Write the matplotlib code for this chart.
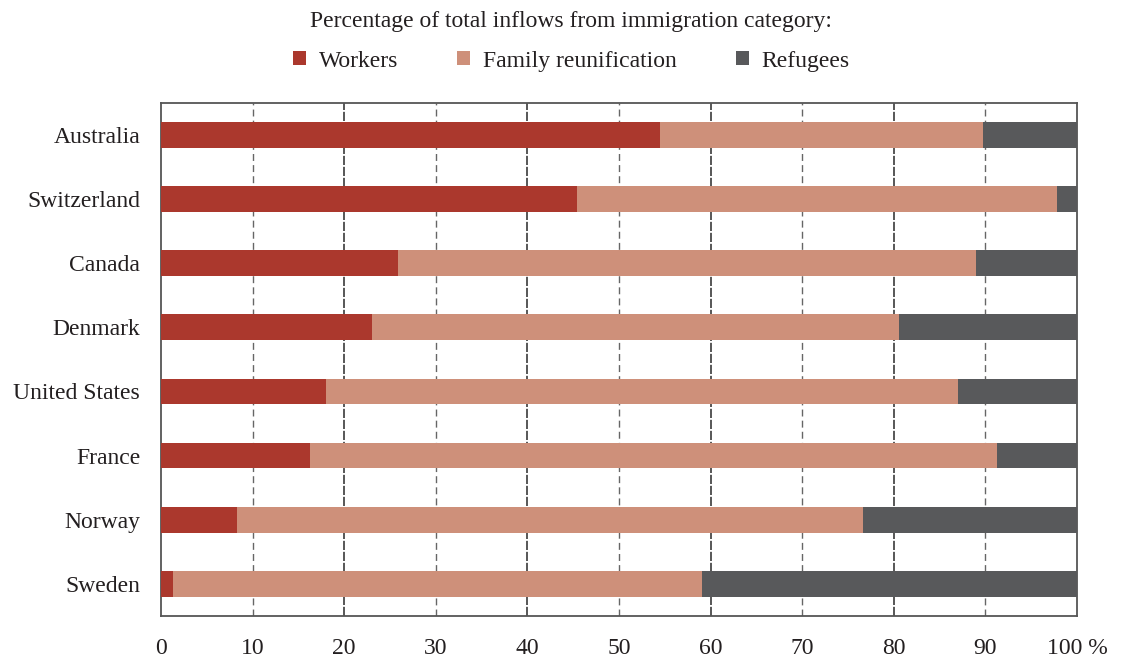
import matplotlib
matplotlib.use("Agg")
import matplotlib.pyplot as plt
from matplotlib.patches import Patch
import numpy as np

countries = ["Australia", "Switzerland", "Canada", "Denmark", "United States", "France", "Norway", "Sweden"]
workers = [54.5, 45.4, 25.9, 23.0, 18.0, 16.3, 8.3, 1.3]
family = [35.2, 52.4, 63.1, 57.6, 69.0, 75.0, 68.3, 57.8]
refugees = [10.3, 2.2, 11.0, 19.4, 13.0, 8.7, 23.4, 40.9]
series_names = ["Workers", "Family reunification", "Refugees"]
colors = ["#AB382D", "#CE907A", "#58595B"]
xticks = [0, 10, 20, 30, 40, 50, 60, 70, 80, 90, 100]
xticklabels = ["0", "10", "20", "30", "40", "50", "60", "70", "80", "90", "100 %"]

plt.rcParams['font.family'] = ['Liberation Serif', 'DejaVu Serif']
FS = 17

fig = plt.figure(figsize=(11.38, 6.65), dpi=100)
ax = fig.add_axes([0.1415, 0.0737, 0.8049, 0.7719])

y = np.arange(len(countries))
left = np.zeros(len(countries))
for vals, col in zip([workers, family, refugees], colors):
    ax.barh(y, vals, left=left, height=0.4, color=col, zorder=3, linewidth=0)
    left = left + np.array(vals)

ax.set_ylim(len(countries) - 0.5, -0.5)
ax.set_xlim(0, 100)
ax.set_yticks(y)
ax.set_yticklabels(countries, fontsize=FS, color="#231f20")
ax.set_xticks(xticks)
ax.set_xticklabels(xticklabels, fontsize=FS, color="#231f20")
ax.tick_params(axis='both', length=0)
ax.tick_params(axis='x', pad=16)
ax.tick_params(axis='y', pad=15)

for xv in xticks[1:-1]:
    if xv % 20 == 0:
        ax.axvline(xv, color="#2a2a2a", lw=1.1, ls=(0, (6, 1.2)), zorder=1)
    else:
        ax.axvline(xv, color="#666666", lw=1.0, ls=(0, (5, 3)), zorder=1)

for s in ax.spines.values():
    s.set_color("#555555")
    s.set_linewidth(1.3)

fig.text(0.502, 0.968, "Percentage of total inflows from immigration category:",
         ha="center", va="center", fontsize=FS, color="#231f20")

handles = [Patch(facecolor=c, edgecolor='none') for c in colors]
leg = fig.legend(handles, series_names, loc="center", bbox_to_anchor=(0.502, 0.908),
                 ncol=3, frameon=False, fontsize=FS, handlelength=0.55, handleheight=0.55,
                 handletextpad=0.55, columnspacing=2.5)
for t in leg.get_texts():
    t.set_color("#231f20")

fig.savefig("out.png", dpi=100)
